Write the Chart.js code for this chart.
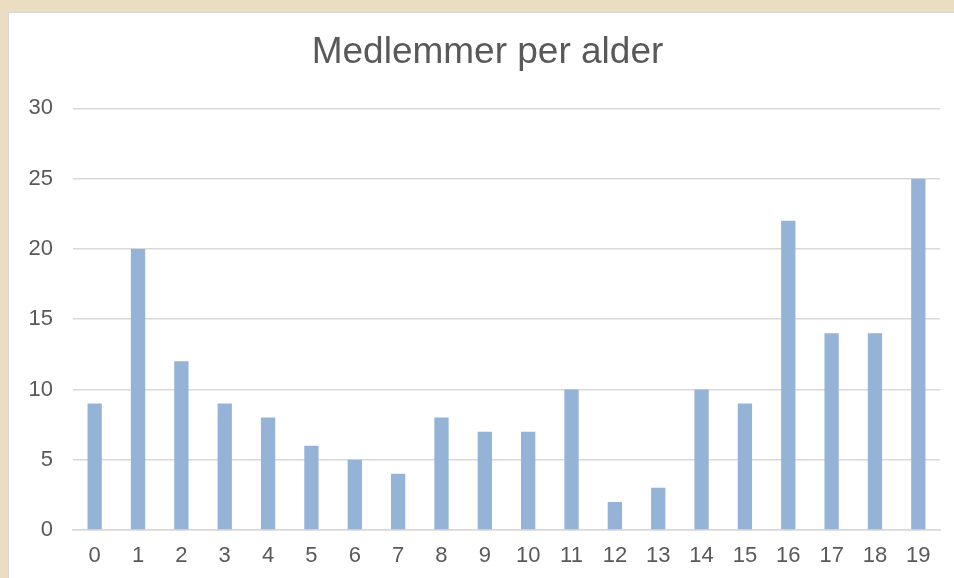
<!DOCTYPE html>
<html>
<head>
<meta charset="utf-8">
<script src="https://cdn.jsdelivr.net/npm/chart.js@4/dist/chart.umd.min.js"></script>
<style>
html,body{margin:0;padding:0;width:954px;height:578px;overflow:hidden;background:#eaddc1;}
#frame{position:absolute;left:8px;top:12px;width:946px;height:566px;background:#fff;border-left:1px solid #d6d6d6;border-top:1px solid #d6d6d6;box-sizing:border-box;}
#wrap{position:absolute;left:0;top:0;width:945px;height:565px;}
</style>
</head>
<body>
<div id="frame"><div id="wrap"><canvas id="c" width="945" height="565"></canvas></div></div>
<script>
const chartTitle = "Medlemmer per alder";
const ages = ["0","1","2","3","4","5","6","7","8","9","10","11","12","13","14","15","16","17","18","19"];
const members = [9,20,12,9,8,6,5,4,8,7,7,10,2,3,10,9,22,14,14,25];
const yTicks = [0,5,10,15,20,25,30];

const shiftTitle = {
  id: 'shiftTitle',
  afterLayout(chart) {
    if (chart.titleBlock) { chart.titleBlock.left += 13; chart.titleBlock.right += 13; }
  }
};

new Chart(document.getElementById('c'), {
  type: 'bar',
  data: {
    labels: ages,
    datasets: [{
      data: members,
      backgroundColor: '#95b3d7',
      borderWidth: 0,
      barPercentage: 0.33,
      categoryPercentage: 1.0
    }]
  },
  options: {
    responsive: false,
    animation: false,
    layout: { padding: { left: 0, right: 14, top: 0, bottom: 0 } },
    plugins: {
      legend: { display: false },
      tooltip: { enabled: false },
      title: {
        display: true,
        text: chartTitle,
        color: '#595959',
        font: { family: 'Liberation Sans, Arial, sans-serif', size: 37, weight: 'normal' },
        padding: { top: 18, bottom: 33 }
      }
    },
    scales: {
      x: {
        grid: { display: false, drawTicks: false },
        border: { display: true, color: '#d9d9d9', width: 1.5 },
        ticks: { color: '#595959', font: { family: 'Liberation Sans, Arial, sans-serif', size: 22 }, padding: 13, maxRotation: 0, autoSkip: false },
        afterFit: s => { s.height = 48; }
      },
      y: {
        min: 0, max: 30,
        afterBuildTicks: s => { s.ticks = yTicks.map(v => ({ value: v })); },
        grid: { color: '#d9d9d9', lineWidth: 1.5, drawTicks: false },
        border: { display: false },
        ticks: { color: '#595959', font: { family: 'Liberation Sans, Arial, sans-serif', size: 22 }, padding: 20 },
        afterFit: s => { s.width = 64; }
      }
    }
  },
  plugins: [shiftTitle]
});
</script>
</body>
</html>
